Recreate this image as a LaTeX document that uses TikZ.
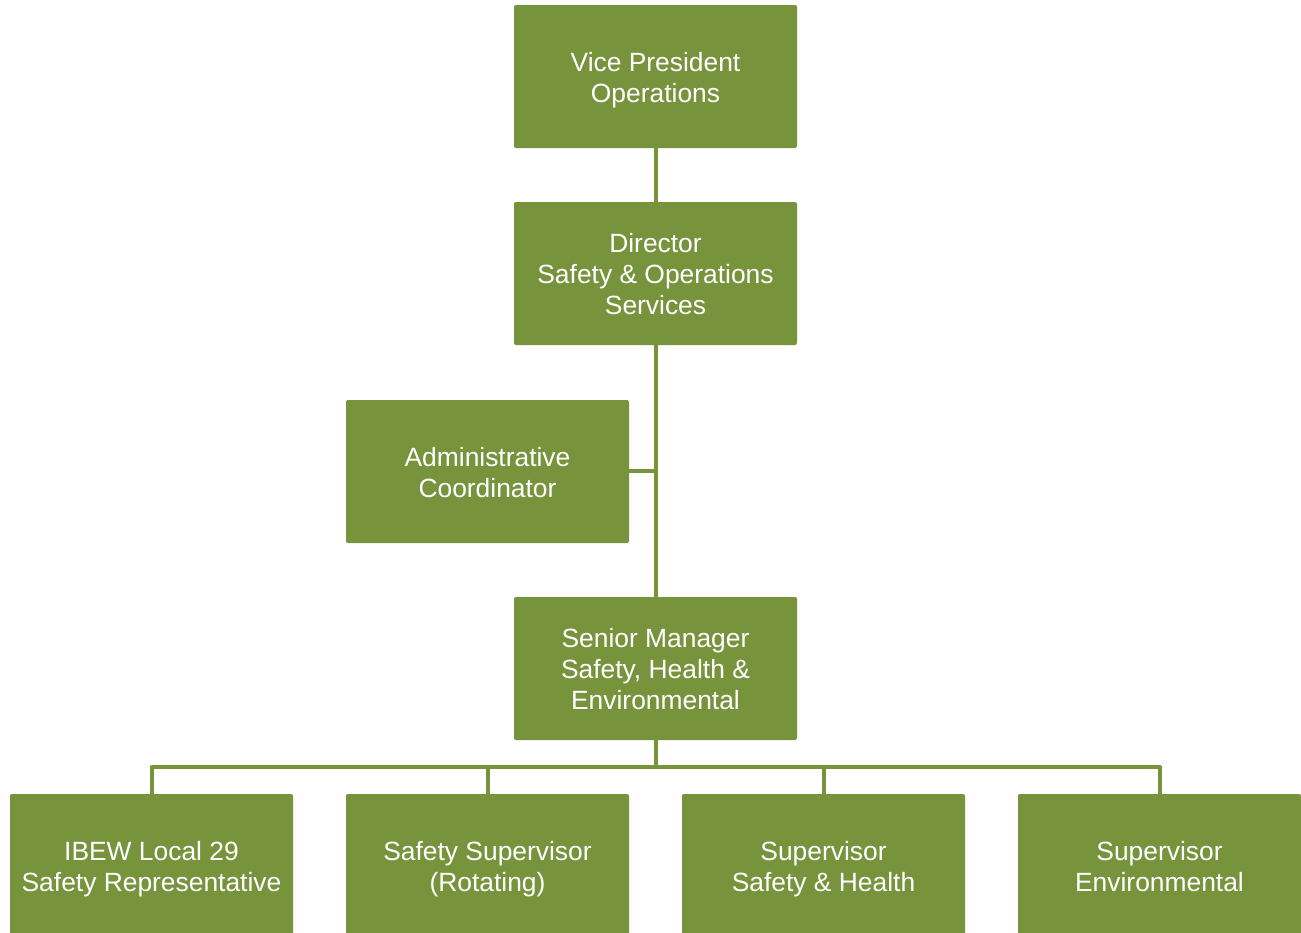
\documentclass[tikz,border=0pt]{standalone}
\usepackage{fontspec}
\setmainfont{Liberation Sans}
\definecolor{olive}{RGB}{119,147,60}
% every text line gets the same height and depth, so boxes centre alike
\newcommand\orgstrut{\rule[-5.3pt]{0pt}{31pt}}
\newcommand\orglines[1]{{\def\\{\orgstrut\cr\orgstrut}%
  \vbox{\offinterlineskip\halign{\hfil##\hfil\cr\orgstrut#1\orgstrut\crcr}}}}
\begin{document}
\begin{tikzpicture}[x=1pt,y=-1pt,
  orgbox/.style={draw=none,fill=olive,rounded corners=2pt,
    minimum width=283pt,minimum height=143pt,inner sep=0pt,
    text=white,font=\fontsize{26.4}{31}\selectfont},
  link/.style={draw=olive,line width=4pt}]
  \useasboundingbox (0,0) rectangle (1301,932);
  \clip (0,0) rectangle (1301,932);
  % upper chain
  \node[orgbox] (vp)    at (655.5,76.5)  {\orglines{Vice President\\Operations}};
  \node[orgbox] (dir)   at (655.5,273.5) {\orglines{Director\\Safety \& Operations\\Services}};
  \node[orgbox] (admin) at (487.5,471.5) {\orglines{Administrative\\Coordinator}};
  \node[orgbox] (sen)   at (655.5,668.5) {\orglines{Senior Manager\\Safety, Health \&\\Environmental}};
  % bottom row
  \node[orgbox] (ibew) at (151.5,865.5)  {\orglines{IBEW Local 29\\Safety Representative}};
  \node[orgbox] (ssup) at (487.5,865.5)  {\orglines{Safety Supervisor\\(Rotating)}};
  \node[orgbox] (sh)   at (823.5,865.5)  {\orglines{Supervisor\\Safety \& Health}};
  \node[orgbox] (env)  at (1159.5,865.5) {\orglines{Supervisor\\Environmental}};
  % connectors
  \coordinate (bus) at (656,767);
  \coordinate (tap) at (656,470.5);
  \draw[link] (vp.south -| 656,0) -- (dir.north -| 656,0);
  \draw[link] (dir.south -| 656,0) -- (sen.north -| 656,0);
  \draw[link] (admin.east |- tap) -- (tap);
  \draw[link] (sen.south -| 656,0) -- (bus);
  \draw[link,line join=round] (bus) -| (ibew.north);
  \draw[link,line join=round] (bus) -| (ssup.north);
  \draw[link,line join=round] (bus) -| (sh.north);
  \draw[link,line join=round] (bus) -| (env.north);
\end{tikzpicture}
\end{document}
